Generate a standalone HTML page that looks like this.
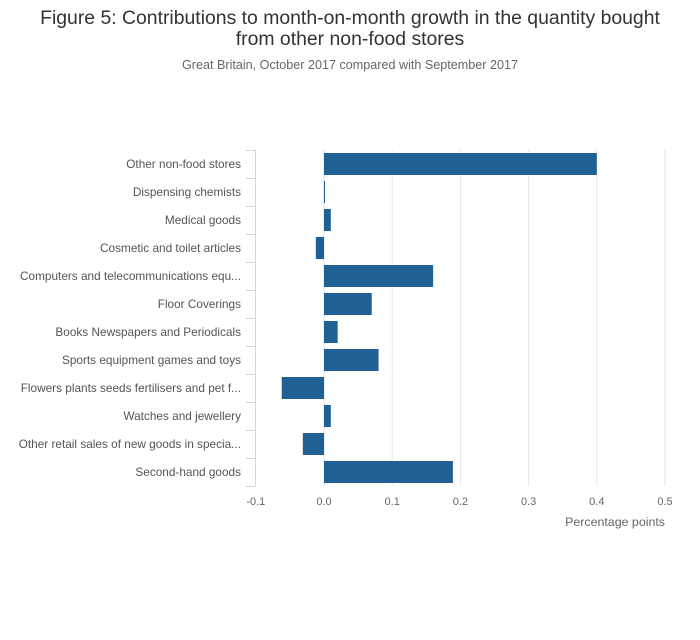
<!DOCTYPE html>
<html><head><meta charset="utf-8"><style>
body{margin:0;background:#fff;font-family:"Liberation Sans",sans-serif}
</style></head><body>
<svg width="700" height="635" style="font-family:'Liberation Sans',sans-serif">
<text x="350" y="24" text-anchor="middle" font-size="19.4" fill="#333">Figure 5: Contributions to month-on-month growth in the quantity bought</text>
<text x="350" y="45" text-anchor="middle" font-size="19.4" fill="#333">from other non-food stores</text>
<text x="350" y="69" text-anchor="middle" font-size="12.6" fill="#666">Great Britain, October 2017 compared with September 2017</text>
<g id="grid"></g><g id="bars"></g><g id="yaxis"></g><g id="xticks"></g>
<text x="665" y="526" text-anchor="end" font-size="12.4" fill="#666">Percentage points</text>
</svg>
<script>
const categories=["Other non-food stores","Dispensing chemists","Medical goods","Cosmetic and toilet articles","Computers and telecommunications equ...","Floor Coverings","Books Newspapers and Periodicals","Sports equipment games and toys","Flowers plants seeds fertilisers and pet f...","Watches and jewellery","Other retail sales of new goods in specia...","Second-hand goods"];
const values=[0.40,0.001,0.01,-0.012,0.16,0.07,0.02,0.08,-0.062,0.01,-0.031,0.189];
const tickValues=[-0.1,0,0.1,0.2,0.3,0.4,0.5];
const tickLabels=["-0.1","0.0","0.1","0.2","0.3","0.4","0.5"];
const NS="http://www.w3.org/2000/svg";
const xs=v=>324+(v)*682;
const topY=150,rowH=28;
const ys=i=>topY+i*rowH;
function mk(t,a,p){const e=document.createElementNS(NS,t);for(const k in a)e.setAttribute(k,a[k]);document.getElementById(p).appendChild(e);return e;}
tickValues.forEach((t,i)=>{
 if(i>0){const g=mk('line',{x1:xs(t),x2:xs(t),y1:topY,y2:topY+rowH*categories.length,stroke:i==1?'#ddd':'#e6e6e6','stroke-width':1},'grid');
 
 }
 const l=mk('text',{x:xs(t),y:505,'text-anchor':'middle','font-size':11,fill:'#666'},'xticks');l.textContent=tickLabels[i];
 
 
});
const ax=mk('line',{x1:255.5,x2:255.5,y1:topY,y2:topY+rowH*categories.length,stroke:'#ccd6eb'},'yaxis');


for(let i=0;i<=categories.length;i++){const t=mk('line',{x1:246,x2:255.5,y1:ys(i)+0.5,y2:ys(i)+0.5,stroke:'#ccd6eb'},'yaxis');
 
 }
categories.forEach((c,i)=>{
 const l=mk('text',{x:241,y:ys(i)+18,'text-anchor':'end','font-size':11.8,fill:'#555'},'yaxis');l.textContent=c;
 
 
 const v=values[i];const x0=Math.min(xs(0),xs(v)),w=Math.max(Math.abs(xs(v)-xs(0)),1);
 const b=mk('rect',{x:x0,y:ys(i)+3,width:w,height:22,fill:'#206095'},'bars');
 
 
});
</script>
</body></html>
